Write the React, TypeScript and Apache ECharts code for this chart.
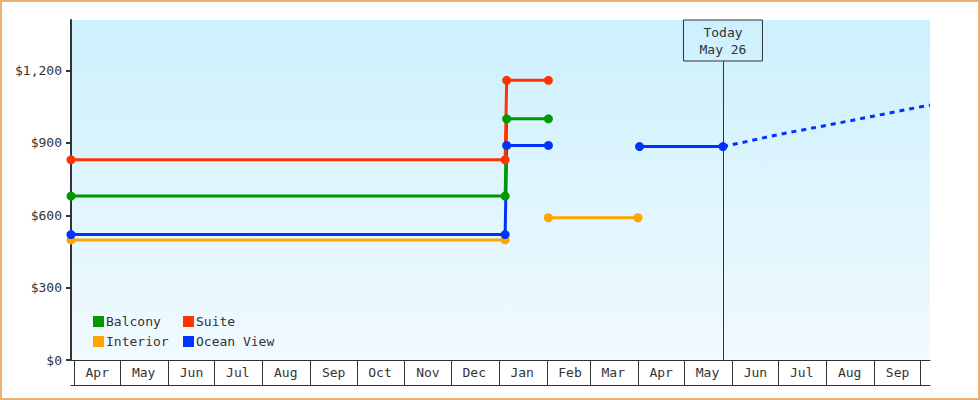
import React, { useEffect, useRef } from 'react';
import * as echarts from 'echarts';

// dates as YYYY-MM-DD, prices in dollars
const axisStart = '2014-03-30';
const axisEnd = '2015-10-07';
const todayDate = '2015-05-26';
const todayLabel = 'Today\nMay 26';

const monthLabels = ['Apr', 'May', 'Jun', 'Jul', 'Aug', 'Sep', 'Oct', 'Nov', 'Dec', 'Jan', 'Feb', 'Mar', 'Apr', 'May', 'Jun', 'Jul', 'Aug', 'Sep'];
const firstMonth = [2014, 4];

const balcony: [string, number | null][] = [
  ['2014-03-30', 680], ['2015-01-05', 680], ['2015-01-06', 1000], ['2015-02-02', 1000],
];
const suite: [string, number | null][] = [
  ['2014-03-30', 830], ['2015-01-05', 830], ['2015-01-06', 1160], ['2015-02-02', 1160],
];
const interior: [string, number | null][] = [
  ['2014-03-30', 498], ['2015-01-05', 498], ['2015-01-20', null], ['2015-02-02', 590], ['2015-04-01', 590],
];
const oceanView: [string, number | null][] = [
  ['2014-03-30', 520], ['2015-01-05', 520], ['2015-01-06', 890], ['2015-02-02', 890],
  ['2015-03-01', null], ['2015-04-02', 885], ['2015-05-26', 885],
];
const oceanForecast: [string, number][] = [
  ['2015-05-26', 885], ['2015-06-01', 893], ['2015-07-01', 935], ['2015-08-01', 973],
  ['2015-09-01', 1012], ['2015-10-01', 1050], ['2015-10-07', 1057],
];
const yTicks = [0, 300, 600, 900, 1200];

const colors = {
  Balcony: '#009900',
  Suite: '#ff3300',
  Interior: '#ffa500',
  'Ocean View': '#0033ff',
};

const FONT = '"DejaVu Sans Mono", monospace';
const INK = '#333';

const ts = (s: string) => {
  const [y, m, d] = s.split('-').map(Number);
  return new Date(y, m - 1, d).getTime();
};
const toData = (rows: [string, number | null][]) => rows.map(([d, v]) => [ts(d), v]);

export default function App() {
  const chartRef = useRef<HTMLDivElement>(null);

  useEffect(() => {
    if (!chartRef.current) return;
    const chart = echarts.init(chartRef.current, null, { renderer: 'svg' });

    const monthStarts = Array.from({ length: monthLabels.length + 1 }, (_, i) =>
      new Date(firstMonth[0], firstMonth[1] - 1 + i, 1).getTime());
    const monthMids = monthLabels.map((_, i) =>
      new Date(firstMonth[0], firstMonth[1] - 1 + i, 16).getTime());

    const lineSeries = (name: string, rows: [string, number | null][]) => ({
      name,
      type: 'line',
      data: toData(rows),
      connectNulls: false,
      symbol: 'circle',
      symbolSize: 9,
      color: (colors as any)[name],
      lineStyle: { width: 3, color: (colors as any)[name] },
      itemStyle: { color: (colors as any)[name] },
    });

    const legendCommon = {
      orient: 'vertical',
      top: 310,
      icon: 'rect',
      itemWidth: 11,
      itemHeight: 11,
      itemGap: 7,
      textStyle: { color: INK, fontFamily: FONT, fontSize: 13, padding: [0, 0, 0, -3] },
    };

    const option = {
      animation: false,
      textStyle: { fontFamily: FONT },
      grid: {
        left: 71,
        right: 50,
        top: 20,
        bottom: 40,
        outerBoundsMode: 'none',
        show: true,
        borderWidth: 0,
        backgroundColor: new echarts.graphic.LinearGradient(0, 0, 0, 1, [
          { offset: 0, color: '#ccf0fd' },
          { offset: 1, color: '#f1faff' },
        ]),
      },
      legend: [
        { ...legendCommon, left: 88, data: ['Balcony', 'Interior'] },
        { ...legendCommon, left: 178, data: ['Suite', 'Ocean View'] },
      ],
      xAxis: [
        {
          type: 'value',
          min: ts(axisStart),
          max: ts(axisEnd),
          position: 'bottom',
          axisLine: { show: true, lineStyle: { color: INK, width: 1 } },
          axisTick: {
            show: true,
            length: 25,
            customValues: monthStarts,
            lineStyle: { color: INK, width: 1 },
          },
          axisLabel: {
            customValues: monthMids,
            color: INK,
            fontFamily: FONT,
            fontSize: 13,
            margin: 6,
            formatter: (value: number) => {
              const i = monthMids.indexOf(value);
              return i >= 0 ? monthLabels[i] : '';
            },
          },
          splitLine: { show: false },
        },
        {
          type: 'value',
          min: ts(axisStart),
          max: ts(axisEnd),
          position: 'bottom',
          offset: 25,
          axisLine: { show: true, lineStyle: { color: INK, width: 1 } },
          axisTick: { show: false },
          axisLabel: { show: false },
          splitLine: { show: false },
        },
      ],
      yAxis: {
        type: 'value',
        min: 0,
        max: 1410,
        interval: 300,
        axisLine: { show: true, lineStyle: { color: INK, width: 2 } },
        axisTick: { show: true, length: 5, customValues: yTicks, lineStyle: { color: INK, width: 2 } },
        axisLabel: {
          customValues: yTicks,
          color: INK,
          fontFamily: FONT,
          fontSize: 13,
          margin: 9,
          formatter: (v: number) => '$' + v.toLocaleString('en-US'),
        },
        splitLine: { show: false },
      },
      series: [
        lineSeries('Interior', interior),
        lineSeries('Ocean View', oceanView),
        lineSeries('Balcony', balcony),
        lineSeries('Suite', suite),
        {
          name: 'Ocean View forecast',
          type: 'line',
          data: toData(oceanForecast),
          showSymbol: false,
          symbol: 'none',
          lineStyle: { width: 3, color: colors['Ocean View'], type: [5, 5] },
          markLine: {
            silent: true,
            symbol: ['none', 'none'],
            lineStyle: { color: INK, width: 1, type: 'solid' },
            label: {
              show: true,
              position: 'end',
              distance: 0,
              formatter: todayLabel,
              color: INK,
              fontFamily: FONT,
              fontSize: 13,
              lineHeight: 17,
              align: 'center',
              padding: [4, 16, 3, 16],
              borderColor: INK,
              borderWidth: 1,
            },
            data: [[{ coord: [ts(todayDate), 0] }, { coord: [ts(todayDate), 1240] }]],
          },
        },
      ],
    };

    chart.setOption(option as any);

    return () => {
      chart.dispose();
    };
  }, []);

  return (
    <div style={{ position: 'absolute', left: 0, top: 0, width: 980, height: 400, background: '#fff' }}>
      <div ref={chartRef} style={{ position: 'absolute', left: 0, top: 0, width: 980, height: 400 }} />
      <div
        style={{
          position: 'absolute',
          left: 0,
          top: 0,
          width: 980,
          height: 400,
          boxSizing: 'border-box',
          border: '2px solid #eeb070',
          pointerEvents: 'none',
        }}
      />
    </div>
  );
}
